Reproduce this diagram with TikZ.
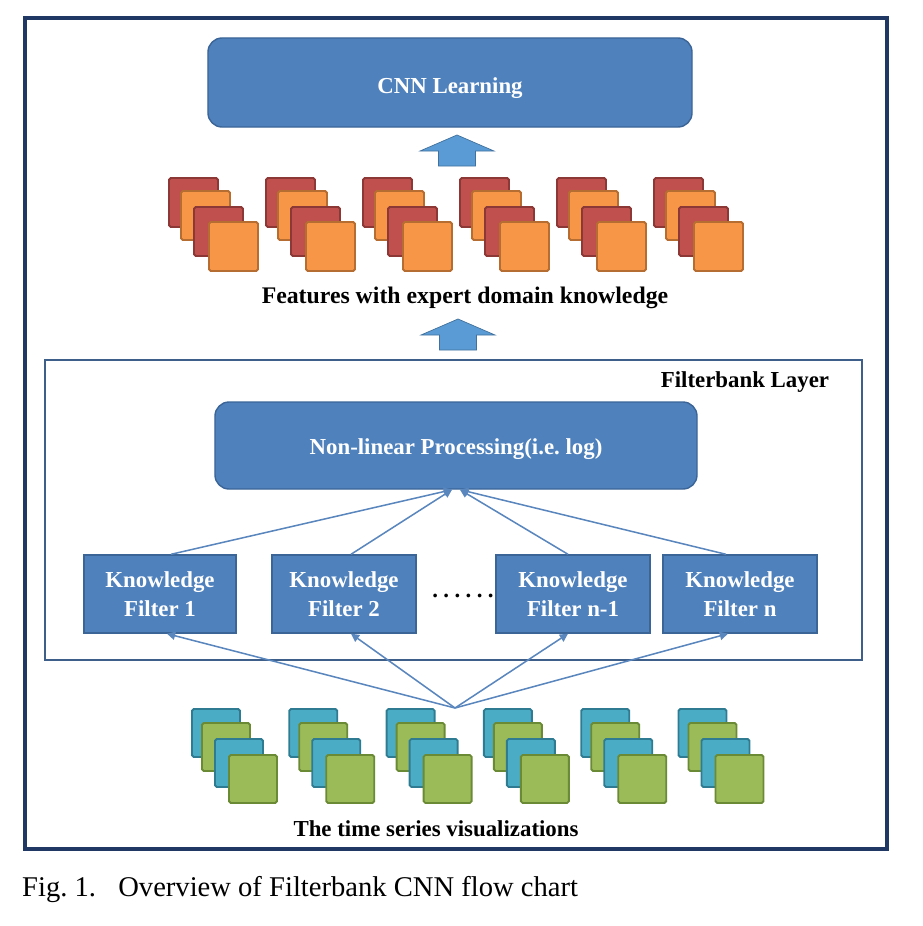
\documentclass[tikz,border=0pt]{standalone}
\usepackage{fontspec}
\setmainfont{Liberation Serif}
\frenchspacing
\usetikzlibrary{arrows.meta,calc}
\definecolor{boxblue}{HTML}{4F81BD}
\definecolor{boxedge}{HTML}{3B6597}
\definecolor{linkblue}{HTML}{5A86BE}
\definecolor{barrow}{HTML}{5B9BD5}
\definecolor{barrowedge}{HTML}{41719C}
\definecolor{sqred}{HTML}{C0504D}
\definecolor{sqrededge}{HTML}{8C3836}
\definecolor{sqorange}{HTML}{F79646}
\definecolor{sqorangeedge}{HTML}{B66D31}
\definecolor{sqblue}{HTML}{4BACC6}
\definecolor{sqblueedge}{HTML}{2F7C92}
\definecolor{sqgreen}{HTML}{9BBB59}
\definecolor{sqgreenedge}{HTML}{6B8A35}
\definecolor{frame}{HTML}{1F3864}
\definecolor{fbedge}{HTML}{3E5F8A}
\tikzset{
  bluebox/.style={draw=boxedge, line width=1.2pt, fill=boxblue, text=white,
    font=\fontsize{19.5}{24.5}\selectfont\bfseries, inner sep=0pt, align=center},
  link/.style={draw=linkblue, line width=1.3pt, -{Triangle[length=7pt,width=7pt]}},
  blockarrow/.style={fill=barrow, draw=barrowedge, line width=0.6pt},
  lbl/.style={font=\fontsize{19.5}{24}\selectfont\bfseries, inner sep=0pt},
  sq/.style={line width=1.6pt, rounded corners=1.5pt}
}
\begin{document}
\begin{tikzpicture}[x=0.03cm,y=-0.03cm]
\useasboundingbox (0,0) rectangle (922,926);
% outer frame
\draw[frame, line width=2.8pt] (25,18) rectangle (887,849);
% filterbank frame
\draw[fbedge, line width=1.8pt] (45,360) rectangle (862,660);
\node[lbl, anchor=center] (fbl) at (745,382) {Filterbank Layer};

% CNN learning
\node[bluebox, rounded corners=12pt, minimum width=14.52cm, minimum height=2.67cm] (cnn) at (450,82.5) {\raisebox{-9.4pt}[0pt][0pt]{CNN Learning}};

% block arrows
\draw[blockarrow] (457,135) -- (494,151) -- (475.5,151) -- (475.5,166) -- (438.5,166) -- (438.5,151) -- (420,151) -- cycle;
\draw[blockarrow] (458,319) -- (495,335) -- (476.5,335) -- (476.5,350) -- (439.5,350) -- (439.5,335) -- (421,335) -- cycle;

% feature squares
\foreach \i in {0,...,5}{
  \pgfmathsetmacro{\bx}{169+97*\i}
  \draw[sq, fill=sqred, draw=sqrededge] (\bx,178) rectangle ++(49,49);
  \draw[sq, fill=sqorange, draw=sqorangeedge] (\bx+12,191) rectangle ++(49,49);
  \draw[sq, fill=sqred, draw=sqrededge] (\bx+25,207) rectangle ++(49,49);
  \draw[sq, fill=sqorange, draw=sqorangeedge] (\bx+40,222) rectangle ++(49,49);
}
\node[lbl, font=\fontsize{20.3}{24}\selectfont\bfseries] (feat) at (465,298) {Features with expert domain knowledge};

% non-linear processing
\node[bluebox, rounded corners=12pt, minimum width=14.46cm, minimum height=2.61cm] (nl) at (456,445.5) {\raisebox{-7.3pt}[0pt][0pt]{Non-linear Processing(i.e. log)}};

% knowledge filters
\node[bluebox, minimum width=4.56cm, minimum height=2.34cm] (f1) at (160,594) {Knowledge\\Filter 1};
\node[bluebox, minimum width=4.32cm, minimum height=2.34cm] (f2) at (344,594) {Knowledge\\Filter 2};
\node[bluebox, minimum width=4.62cm, minimum height=2.34cm] (fm) at (573,594) {Knowledge\\Filter n-1};
\node[bluebox, minimum width=4.62cm, minimum height=2.34cm] (fn) at (740,594) {Knowledge\\Filter n};
\node[font=\fontsize{19.5}{24}\selectfont\bfseries, inner sep=0pt] (dots) at (463,596) {.\hspace{4.6pt}.\hspace{4.6pt}.\hspace{4.6pt}.\hspace{4.6pt}.\hspace{4.6pt}.};

% filter -> nonlinear
\draw[link] ([xshift=0.33cm]f1.north) -- ([xshift=-0.12cm]nl.south);
\draw[link] ([xshift=0.21cm]f2.north) -- ([xshift=-0.12cm]nl.south);
\draw[link] ([xshift=-0.15cm]fm.north) -- ([xshift=0.12cm]nl.south);
\draw[link] ([xshift=-0.42cm]fn.north) -- ([xshift=0.12cm]nl.south);

% input -> filters
\coordinate (src) at (455,708);
\draw[link] (src) -- ([xshift=0.21cm]f1.south);
\draw[link] (src) -- ([xshift=0.21cm]f2.south);
\draw[link] (src) -- ([xshift=-0.15cm]fm.south);
\draw[link] (src) -- ([xshift=-0.36cm]fn.south);

% input squares
\foreach \i in {0,...,5}{
  \pgfmathsetmacro{\bx}{192+97.3*\i}
  \draw[sq, fill=sqblue, draw=sqblueedge] (\bx,709) rectangle ++(48,48);
  \draw[sq, fill=sqgreen, draw=sqgreenedge] (\bx+10,723) rectangle ++(48,48);
  \draw[sq, fill=sqblue, draw=sqblueedge] (\bx+23,739) rectangle ++(48,48);
  \draw[sq, fill=sqgreen, draw=sqgreenedge] (\bx+37,755) rectangle ++(48,48);
}
\node[lbl] (ts) at (436,829) {The time series visualizations};

% caption
\node[anchor=west, inner sep=0pt, font=\fontsize{24.4}{28}\selectfont] (cap) at (22,890) {Fig. 1.\hspace{19pt}Overview of Filterbank CNN flow chart};
\end{tikzpicture}
\end{document}
